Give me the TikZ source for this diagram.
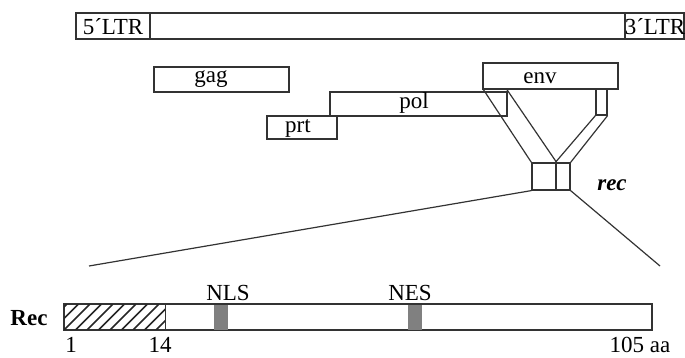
\documentclass[tikz,border=0pt]{standalone}
\usepackage{fontspec}
\setmainfont{Liberation Serif}
\begin{document}
\begin{tikzpicture}[x=1pt,y=-1pt,
  ln/.style={line width=1.2pt, draw=black!80},
  box/.style={ln, rectangle, inner sep=0pt},
  lbl/.style={inner sep=0pt, font=\fontsize{23}{25}\selectfont},
  blbl/.style={inner sep=0pt, font=\fontsize{23}{25}\selectfont\bfseries},
  hatch/.style={line width=1.5pt, draw=black!85},
  motif/.style={fill=black!50, draw=none, inner sep=0pt}]
\useasboundingbox (0,0) rectangle (685,358);
% genome bar
\node[box, minimum width=608pt, minimum height=26pt] (genome) at (380,26) {};
\node[box, minimum width=74pt, minimum height=26pt] (ltr5) at (113,26) {};
\node[box, minimum width=59pt, minimum height=26pt] (ltr3) at (654.5,26) {};
\node[lbl] (t5) at (113,27) {5´LTR};
\node[lbl] (t3) at (655,27) {3´LTR};
% genes
\node[box, minimum width=135pt, minimum height=25pt] (gag) at (221.5,79.5) {};
\node[lbl] (tgag) at (211,79) {gag};
\node[box, minimum width=135pt, minimum height=26pt] (env) at (550.5,76) {};
\node[lbl] (tenv) at (540,78) {env};
\node[box, minimum width=177pt, minimum height=24pt] (pol) at (418.5,104) {};
\node[lbl] (tpol) at (414,103) {pol};
\node[box, minimum width=70pt, minimum height=23pt] (prt) at (302,127.5) {};
\node[lbl] (tprt) at (298,128) {prt};
\node[box, minimum width=11pt, minimum height=26pt] (ex2) at (601.5,102) {};
% rec exons
\node[box, minimum width=24pt, minimum height=27pt] (r1) at (544,176.5) {};
\node[box, minimum width=14pt, minimum height=27pt] (r2) at (563,176.5) {};
\node[inner sep=0pt, font=\fontsize{23}{25}\selectfont\bfseries\itshape] (trec) at (612,185) {rec};
\coordinate (e1a) at (483,89);
\coordinate (e1b) at (506.5,89);
\draw[ln] (e1a) -- (r1.north west);
\draw[ln] (e1b) -- (r1.north east);
\draw[ln] (ex2.south west) -- (r2.north west);
\draw[ln] (ex2.south east) -- (r2.north east);
% expansion
\coordinate (zl) at (89,266);
\coordinate (zr) at (660,266);
\draw[ln] (r1.south west) -- (zl);
\draw[ln] (r2.south east) -- (zr);
% protein
\node[box, minimum width=588pt, minimum height=26pt] (prot) at (358,317) {};
\node[inner sep=0pt, minimum width=101pt, minimum height=26pt] (hat) at (114.5,317) {};
\begin{scope}
\clip (hat.south west) rectangle (hat.north east);
\foreach \i in {-2,...,10} {
  \draw[hatch] ([xshift=\i*11.5pt]hat.south west) -- ++(26,-26);
}
\end{scope}
\draw[ln] (hat.south west) rectangle (hat.north east);
\node[motif, minimum width=14pt, minimum height=25pt] (nls) at (221,317) {};
\node[motif, minimum width=14pt, minimum height=25pt] (nes) at (415,317) {};
\node[lbl] (tnls) at (228,293) {NLS};
\node[lbl] (tnes) at (410,293) {NES};
\node[blbl] (trec2) at (29,318) {Rec};
\node[lbl, anchor=base] (n1) at (71,352) {1};
\node[lbl, anchor=base] (n14) at (160,352) {14};
\node[lbl, anchor=base] (n105) at (640,352) {105 aa};
\end{tikzpicture}
\end{document}
